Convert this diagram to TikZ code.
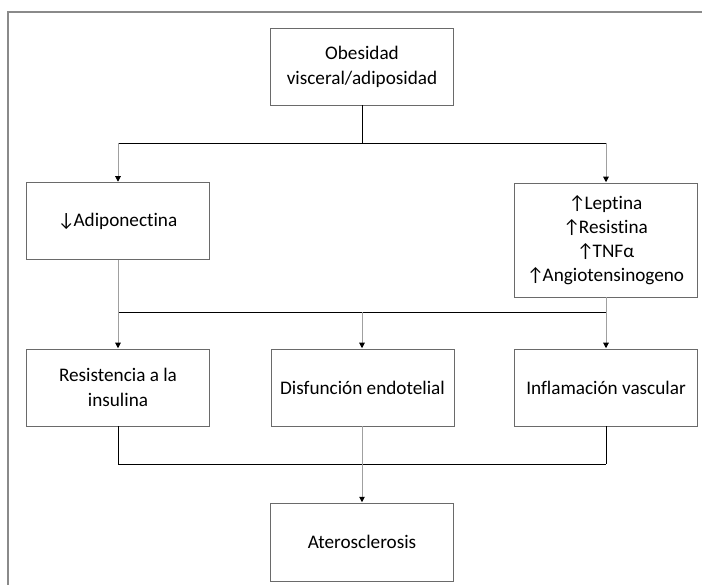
\documentclass[tikz,border=0pt]{standalone}
\usepackage{fontspec}
\setmainfont{Carlito}[Ligatures=NoCommon]
\usetikzlibrary{arrows.meta}
\definecolor{boxline}{HTML}{6A6A6A}
\definecolor{linkline}{HTML}{A0A0A0}
\definecolor{frameline}{HTML}{8A8A8A}
\newcommand{\upar}{↑\kern-1.5pt}
\newcommand{\downar}{↓\kern-1.5pt}
\tikzset{
  flowbox/.style={draw=boxline, line width=0.9pt, fill=white, inner sep=2pt,
    minimum width=183pt, minimum height=77pt, align=center,
    font=\fontsize{19.2}{25}\selectfont},
  bar/.style={draw=black, line width=0.9pt},
  link/.style={draw=linkline, line width=1pt},
  linkarrow/.style={link, -{Triangle[width=5.5pt,length=5.5pt,color=black]}, shorten >=0.3pt},
}
\begin{document}
\begin{tikzpicture}[x=1pt,y=-1pt]
\useasboundingbox (0,0) rectangle (702,585);
% outer frame (left and top edges)
\draw[frameline, line width=1.6pt] (8,585) -- (8,12) -- (702,12);

% boxes
\node[flowbox] (obes) at (362,66.5) {Obesidad\\visceral/adiposidad};
\node[flowbox] (adipo) at (117.5,221) {\downar Adiponectina};
\node[flowbox, minimum height=114pt, font=\fontsize{19.2}{24}\selectfont] (lept) at (605.5,240)
  {\upar Leptina\\\upar Resistina\\\upar TNFα\\\upar Angiotensinogeno};
\node[flowbox] (insul) at (118,387.5) {Resistencia a la\\insulina};
\node[flowbox] (endo) at (362.5,387.5) {Disfunción endotelial};
\node[flowbox] (infl) at (606,387.5) {Inflamación vascular};
\node[flowbox, minimum height=78pt] (ateros) at (362,542) {Aterosclerosis};

% junction points
\coordinate (j1) at (362,143);
\coordinate (j1l) at (118,143);
\coordinate (j1r) at (606,143);
\coordinate (j2l) at (118,312);
\coordinate (j2m) at (362,312);
\coordinate (j2r) at (606,312);
\coordinate (j3l) at (118,464);
\coordinate (j3m) at (362,464);
\coordinate (j3r) at (606,464);

% obesity splits into two branches
\draw[bar] (obes.south) -- (j1);
\draw[bar] (j1l) -- (j1r);
\draw[linkarrow] (j1l) -- (j1l |- adipo.north);
\draw[linkarrow] (j1r) -- (j1r |- lept.north);

% both branches feed the three consequences
\draw[link] (adipo.south -| j2l) -- (j2l);
\draw[link] (lept.south -| j2r) -- (j2r);
\draw[bar] (j2l) -- (j2r);
\draw[linkarrow] (j2l) -- (j2l |- insul.north);
\draw[linkarrow] (j2m) -- (j2m |- endo.north);
\draw[linkarrow] (j2r) -- (j2r |- infl.north);

% consequences converge on atherosclerosis
\draw[bar] (insul.south -| j3l) -- (j3l);
\draw[link] (endo.south -| j3m) -- (j3m);
\draw[bar] (infl.south -| j3r) -- (j3r);
\draw[bar] (j3l) -- (j3r);
\draw[linkarrow] (j3m) -- (ateros.north);
\end{tikzpicture}
\end{document}
